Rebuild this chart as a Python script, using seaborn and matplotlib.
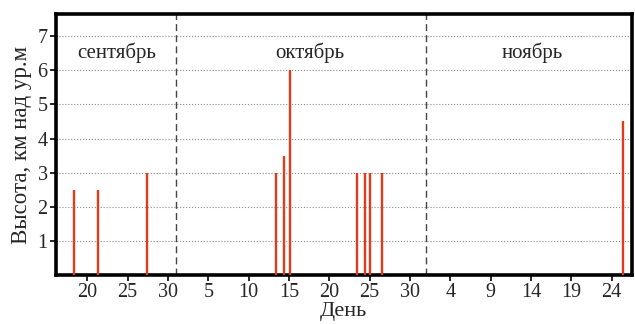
import matplotlib
matplotlib.use("Agg")
import matplotlib.pyplot as plt
import seaborn as sns
import pandas as pd

# day index: Sept d -> d, Oct d -> 30 + d, Nov d -> 61 + d
days = [18.35, 21.3, 27.4, 43.4, 44.4, 45.1, 53.4, 54.4, 55.0, 56.5, 86.4]
heights = [2.5, 2.5, 3.0, 3.0, 3.5, 6.0, 3.0, 3.0, 3.0, 3.0, 4.5]

tick_pos = [20, 25, 30, 35, 40, 45, 50, 55, 60, 65, 70, 75, 80, 85]
tick_labels = ['20', '25', '30', '5', '10', '15', '20', '25', '30', '4', '9', '14', '19', '24']
month_names = ['сентябрь', 'октябрь', 'ноябрь']
month_label_x = [23.6, 47.6, 75.1]
month_bounds = [31, 62]

df = pd.DataFrame({'day': days, 'height': heights})

sns.set_style('ticks')
plt.rcParams['font.family'] = ['Liberation Serif', 'DejaVu Serif']

fig = plt.figure(figsize=(6.35, 3.24), dpi=100)
ax = fig.add_axes([0.088, 0.151, 0.907, 0.806])

# horizontal dotted grid
for y in range(1, 8):
    ax.axhline(y, color='#8a8a8a', linestyle=':', linewidth=0.8, zorder=0)

# month boundaries
for b in month_bounds:
    ax.axvline(b, color='#444444', linestyle=(0, (5, 3)), linewidth=1.0, zorder=1)

ax.vlines(df['day'], 0, df['height'], color='#e23b1c', linewidth=1.7, zorder=3)

for name, xm in zip(month_names, month_label_x):
    ax.text(xm, 6.5, name, ha='center', va='center', fontsize=15)

ax.set_xlim(16.1, 87.5)
ax.set_ylim(0, 7.65)
ax.set_xticks(tick_pos)
ax.set_xticklabels(tick_labels)
ax.set_yticks(range(1, 8))
ax.tick_params(axis='both', labelsize=14.5, length=4, width=1.2, direction='out', color='black', pad=2)
ax.set_xlabel('День', fontsize=16, labelpad=0)
ax.set_ylabel('Высота, км над ур.м', fontsize=16.5, labelpad=4)

for s in ax.spines.values():
    s.set_linewidth(2.6)
    s.set_color('black')

fig.savefig('out.png', dpi=100)
